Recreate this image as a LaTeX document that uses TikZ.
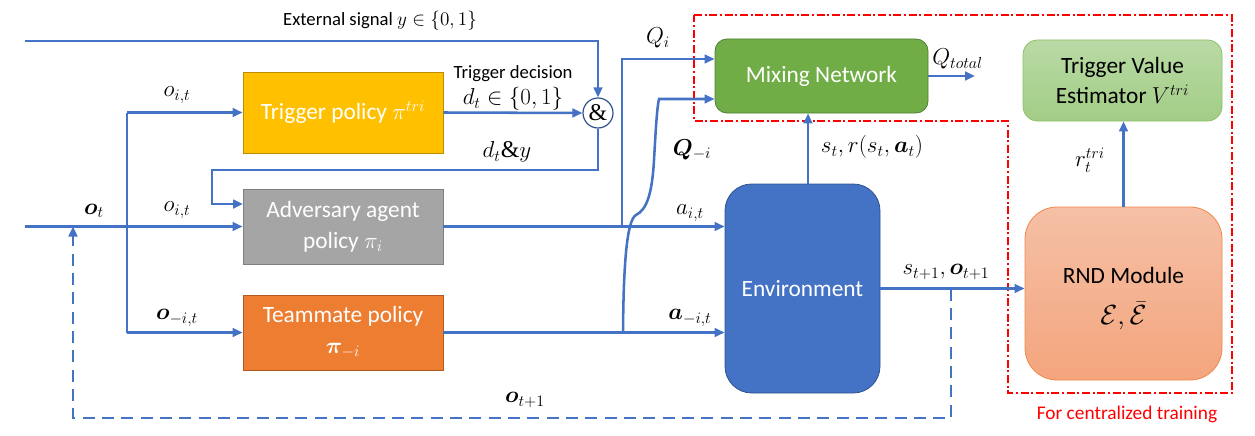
\documentclass[tikz,border=0pt]{standalone}
\usepackage{fontspec}
\setmainfont{Carlito}
\newfontfamily\ampfont{Liberation Serif}
\usepackage{amsmath}
\usepackage{bm}
\usetikzlibrary{arrows.meta}
\definecolor{lblue}{HTML}{4472C4}
\definecolor{trigc}{HTML}{FFC000}
\definecolor{trigd}{HTML}{BC8C00}
\definecolor{advc}{HTML}{A5A5A5}
\definecolor{advd}{HTML}{7F7F7F}
\definecolor{teamc}{HTML}{ED7D31}
\definecolor{teamd}{HTML}{AE5A21}
\definecolor{mixc}{HTML}{70AD47}
\definecolor{mixd}{HTML}{507E32}
\definecolor{envd}{HTML}{2F528F}
\definecolor{tvet}{HTML}{B9DAA5}
\definecolor{tveb}{HTML}{A3CD86}
\definecolor{tved}{HTML}{8CC168}
\definecolor{rndt}{HTML}{F5C0A6}
\definecolor{rndb}{HTML}{F4A57D}
\definecolor{rndd}{HTML}{F08A4B}
\begin{document}
\begin{tikzpicture}[x=0.75pt,y=-0.75pt,
  box/.style={draw, line width=0.6pt, align=center, text=white, inner sep=0pt,
    font=\fontsize{17.5}{22}\selectfont},
  wire/.style={draw=lblue, line width=1.9pt},
  arr/.style={wire, -{Triangle[length=7.5pt,width=6.5pt]}},
  lbl/.style={font=\fontsize{14}{17}\selectfont, inner sep=0pt},
  mlbl/.style={font=\fontsize{18}{21}\selectfont, inner sep=0pt},
]
\useasboundingbox (0,0) rectangle (1255,435);

% boxes
\node[box, fill=trigc, draw=trigd, minimum width=150pt, minimum height=60.75pt] (trig) at (343,112.5) {Trigger policy $\pi^{tri}$};
\node[box, fill=advc, draw=advd, minimum width=150pt, minimum height=56.25pt] (adv) at (343,226.5) {Adversary agent\\[1pt]policy $\pi_i$};
\node[box, fill=teamc, draw=teamd, minimum width=150pt, minimum height=56.25pt] (team) at (343,332.5) {Teammate policy\\[1pt]$\bm{\pi}_{-i}$};
\node[box, fill=mixc, draw=mixd, rounded corners=9pt, minimum width=159.75pt, minimum height=55.5pt] (mix) at (821.5,76) {Mixing Network};
\node[box, fill=lblue, draw=envd, rounded corners=20pt, minimum width=116.25pt, minimum height=156.75pt] (env) at (802.5,288.5) {Environment};
\node[box, top color=tvet, bottom color=tveb, draw=tved, text=black, rounded corners=11pt, minimum width=149.25pt, minimum height=60.75pt] (tve) at (1122.5,80.5) {Trigger Value\\[1pt]Estimator $V^{tri}$};
\node[box, top color=rndt, bottom color=rndb, draw=rndd, text=black, rounded corners=24pt, minimum width=147.75pt, minimum height=129.75pt] (rnd) at (1123.5,293.5) {};
\node[font=\fontsize{17.5}{22}\selectfont, inner sep=0pt] (rndt) at (1123.5,275) {RND Module};
\node[font=\fontsize{22}{24}\selectfont, inner sep=0pt] (rnde) at (1123.5,316) {$\mathcal{E},\bar{\mathcal{E}}$};
\node[circle, draw=envd, line width=0.9pt, fill=white, minimum size=22.5pt, inner sep=0pt, font=\fontsize{18}{20}\selectfont\ampfont] (andc) at (598,113) {\&};

% red training region
\draw[red, line width=1.1pt, dash pattern=on 6pt off 2pt on 1.5pt off 2pt]
  (694,15) -- (1232,15) -- (1232,393) -- (1008,393) -- (1008,121) -- (694,121) -- cycle;
\node[red, lbl, font=\fontsize{14.5}{17}\selectfont] (ctxt) at (1127,414) {For centralized training};

% coordinates
\coordinate (ext) at (25,41);
\coordinate (dyc) at (212,170);
\coordinate (advin) at (243,204);
\coordinate (ot) at (25,226.5);
\coordinate (vtop) at (127,112.5);
\coordinate (vbot) at (127,332.5);
\coordinate (qi) at (622,226.5);
\coordinate (qiup) at (622,59);
\coordinate (qm) at (623,332.5);
\coordinate (qmtop) at (659,99);
\coordinate (envtop) at (808,184);
\coordinate (qtot) at (975,76);
\coordinate (dA) at (951,288.5);
\coordinate (dmid) at (73,418);
\coordinate (dB) at (73,226.5);

% connectors
\draw[arr] (ext) -| (andc.north);
\draw[arr] (trig.east) -- (andc.west);
\draw[arr] (andc.south) |- (dyc) |- (advin);
\draw[arr] (ot) -- (adv.west);
\draw[wire] (vtop) -- (vbot);
\draw[arr] (vtop) -- (trig.west);
\draw[arr] (vbot) -- (team.west);
\draw[arr] (adv.east) -- (adv.east -| env.west);
\draw[arr] (team.east) -- (team.east -| env.west);
\draw[arr] (qi) -- (qiup) -- (qiup -| mix.west);
\draw[arr] (qm) .. controls (623.5,262) and (627,220) .. (636,215)
  .. controls (646,210) and (652,196) .. (654,160)
  .. controls (656,125) and (657,108) .. (qmtop) -- (qmtop -| mix.west);
\draw[arr] (envtop) -- (envtop |- mix.south);
\draw[arr] (mix.east) -- (qtot);
\draw[arr] (env.east) -- (env.east -| rnd.west);
\draw[arr] (rnd.north) -- (rnd.north |- tve.south);
\draw[wire, dash pattern=on 9pt off 5.5pt, -{Triangle[length=7.5pt,width=6.5pt]}] (dA) |- (dmid) -- (dB);

% labels
\node[lbl] (lext) at (380,21) {External signal $y\in\{0,1\}$};
\node[mlbl] (loit1) at (177,95) {$o_{i,t}$};
\node[lbl] (ltd) at (513,74) {Trigger decision};
\node[mlbl] (ldt) at (513,99) {$d_t\in\{0,1\}$};
\node[mlbl] (ldy) at (507,152) {$d_t${\ampfont\&}$y$};
\node[mlbl] (lot) at (94,211) {$\bm{o}_t$};
\node[mlbl] (loit2) at (177,210) {$o_{i,t}$};
\node[mlbl] (lomit) at (177,318) {$\bm{o}_{-i,t}$};
\node[mlbl] (lqi) at (658,38) {$Q_i$};
\node[mlbl] (lqm) at (692,150) {$\bm{Q}_{-i}$};
\node[mlbl] (lait) at (690,213) {$a_{i,t}$};
\node[mlbl] (lamit) at (690,318) {$\bm{a}_{-i,t}$};
\node[mlbl, anchor=west] (lqt) at (932,59) {$Q_{total}$};
\node[mlbl] (lsr) at (872,147) {$s_t, r(s_t,\bm{a}_t)$};
\node[mlbl] (lso) at (946,272) {$s_{t+1},\bm{o}_{t+1}$};
\node[mlbl] (lr) at (1090,160) {$r_t^{tri}$};
\node[mlbl] (lo1) at (525,400) {$\bm{o}_{t+1}$};
\end{tikzpicture}
\end{document}
